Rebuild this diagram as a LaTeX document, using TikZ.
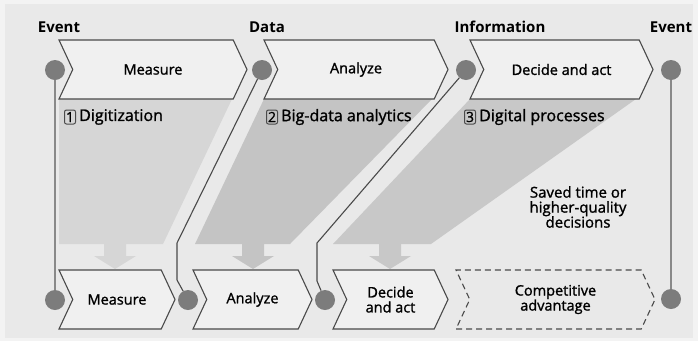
\documentclass[tikz,border=0pt]{standalone}
\usepackage{fontspec}
\setmainfont{Open Sans}
\newfontfamily\semifont[BoldFont={Open Sans}, BoldFeatures={FakeBold=1.3}]{Open Sans}
\usetikzlibrary{shapes.symbols, positioning}

\definecolor{outergray}{HTML}{F3F3F3}
\definecolor{panelgray}{HTML}{E9E9E9}
\definecolor{chevfill}{HTML}{F0F0F0}
\definecolor{chevline}{HTML}{4A4A4A}
\definecolor{dotgray}{HTML}{7C7C7C}
\definecolor{regionA}{HTML}{D6D6D6}
\definecolor{regionB}{HTML}{C4C4C4}
\definecolor{regionC}{HTML}{C8C8C8}

\tikzset{
  chevron/.style={signal, signal to=east, signal from=west, signal pointer angle=130,
    draw=chevline, fill=chevfill, line width=1.1pt, minimum height=59pt,
    inner sep=0pt, align=center, font=\fontsize{14.5}{15}\semifont\bfseries},
  dot/.style={circle, fill=dotgray, minimum size=20pt, inner sep=0pt},
  vline/.style={draw=dotgray!90, line width=2pt},
  conn/.style={draw=chevline, line width=1.1pt},
  head/.style={font=\fontsize{15}{16}\selectfont\bfseries},
  numbox/.style={draw=chevline, rounded corners=2pt, line width=1pt, minimum width=11pt,
    minimum height=14pt, inner sep=0pt, font=\fontsize{14}{14}\semifont\bfseries},
  numtext/.style={font=\fontsize{16}{16}\semifont\bfseries, inner sep=0pt},
}

\begin{document}
\begin{tikzpicture}[x=1pt, y=-1pt]
  \useasboundingbox (0,0) rectangle (698,341);
  \fill[outergray] (0,0) rectangle (698,341);
  \fill[panelgray] (5,4) rectangle (693,338);

  % shaded regions under the top row
  \fill[regionA] (59,99) -- (232,99) -- (163,244) -- (59,244) -- cycle;
  \fill[regionB] (264,99) -- (432,99) -- (290,244) -- (195,244) -- cycle;
  \fill[regionC] (470,99) -- (636,99) -- (431,244) -- (333,244) -- cycle;
  \foreach \cx/\col in {115/regionA, 253/regionB, 390/regionC}
    \fill[\col] (\cx-11,243) -- (\cx+11,243) -- (\cx+11,256) -- (\cx+21,256)
      -- (\cx,269) -- (\cx-21,256) -- (\cx-11,256) -- cycle;

  % dots
  \node[dot] (e1t) at (55,70) {};
  \node[dot] (d1t) at (262,70) {};
  \node[dot] (i1t) at (466,70) {};
  \node[dot] (e2t) at (671,70) {};
  \node[dot] (e1b) at (55,300) {};
  \node[dot] (d1b) at (188,300) {};
  \node[dot] (i1b) at (325,300) {};
  \node[dot] (e2b) at (671,299) {};

  \coordinate (k1) at (177,243);
  \coordinate (k2) at (177,280);
  \coordinate (k3) at (317,243);
  \coordinate (k4) at (317,281);

  \draw[vline] (e1t) -- (e1b);
  \draw[vline] (e2t) -- (e2b);
  \draw[conn] (d1t) -- (k1) -- (k2) -- (d1b);
  \draw[conn] (i1t) -- (k3) -- (k4) -- (i1b);

  % top row
  \node[chevron, minimum width=188pt] (measure) at (153,69.5) {Measure};
  \node[chevron, minimum width=184pt] (analyze) at (356,69.5) {Analyze};
  \node[chevron, minimum width=183pt] (decide) at (561.5,69.5) {Decide and act};

  % bottom row
  \node[chevron, minimum width=116pt] (measure2) at (117,299.5) {Measure};
  \node[chevron, minimum width=119pt] (analyze2) at (252.5,299.5) {Analyze};
  \node[chevron, minimum width=115pt] (decide2) at (390.5,299.5) {Decide\\and act};
  \node[chevron, minimum width=199pt, dashed, dash pattern=on 6pt off 4pt, fill=none]
    (advantage) at (555.5,299.5) {Competitive\\advantage};

  % headings
  \node[head] (ev1) at (59,27) {Event};
  \node[head] (data) at (267,27) {Data};
  \node[head] (info) at (500,27) {Information};
  \node[head] (ev2) at (671,27) {Event};

  % numbered steps
  \node[numbox] (n1) at (70,117) {1};
  \node[numtext, right=3pt of n1] {Digitization};
  \node[numbox] (n2) at (272,117) {2};
  \node[numtext, right=3pt of n2] {Big-data analytics};
  \node[numbox] (n3) at (470,117) {3};
  \node[numtext, right=3pt of n3] {Digital processes};

  \node[align=center, font=\fontsize{15}{15}\semifont\bfseries] (saved) at (578,207)
    {Saved time or\\higher-quality\\decisions};
\end{tikzpicture}
\end{document}
